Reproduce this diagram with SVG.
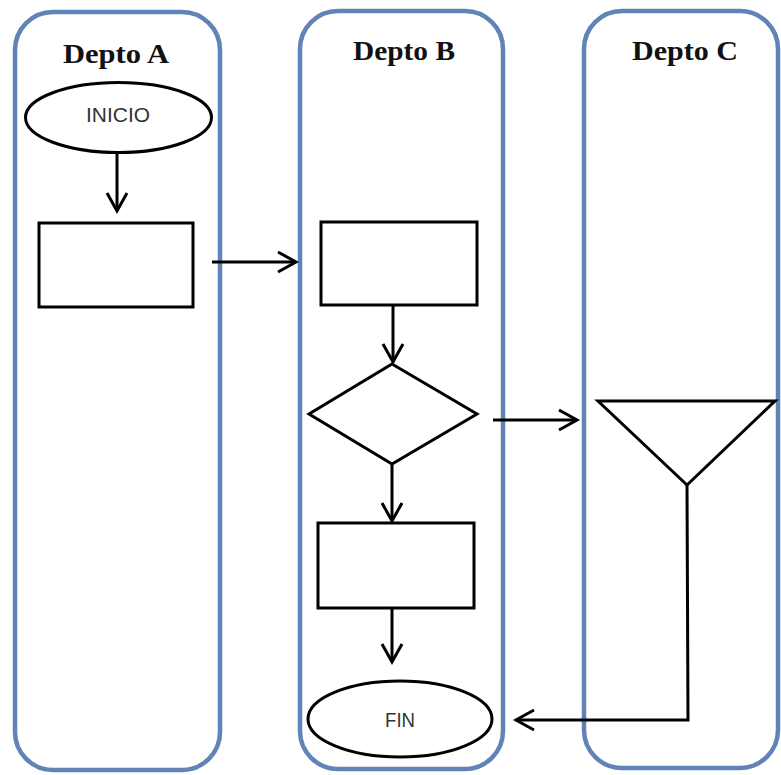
<svg xmlns="http://www.w3.org/2000/svg" width="781" height="775" viewBox="0 0 781 775">
<defs>
<style>
.lane{fill:none;stroke:#6283b6;stroke-width:4.5}
.shape{fill:#fff;stroke:#000;stroke-width:3}
.conn{fill:none;stroke:#000;stroke-width:3}
.head{fill:none;stroke:#000;stroke-width:3;stroke-linejoin:miter}
.title{font-family:"Liberation Serif","Times New Roman",serif;font-weight:bold;font-size:27px;fill:#111;text-anchor:middle}
.lbl{font-family:"Liberation Sans",Arial,sans-serif;font-size:21px;fill:#333;text-anchor:middle}
</style>
</defs>
<rect width="781" height="775" fill="#fff"/>
<g id="laneA"><rect class="lane" x="15" y="12" width="205" height="758" rx="38"/><text class="title" x="116" y="63" textLength="106" lengthAdjust="spacingAndGlyphs">Depto A</text></g>
<g id="laneB"><rect class="lane" x="300" y="11" width="203" height="758" rx="38"/><text class="title" x="404" y="60" textLength="102" lengthAdjust="spacingAndGlyphs">Depto B</text></g>
<g id="laneC"><rect class="lane" x="584" y="11" width="194" height="757" rx="38"/><text class="title" x="685" y="60" textLength="106" lengthAdjust="spacingAndGlyphs">Depto C</text></g>
<g id="inicio"><ellipse class="shape" cx="118.5" cy="117.5" rx="93" ry="35"/><text class="lbl" x="118" y="122" textLength="64" lengthAdjust="spacingAndGlyphs">INICIO</text></g>
<g id="procA"><rect class="shape" x="39" y="223" width="154" height="84"/></g>
<g id="procB1"><rect class="shape" x="321" y="222" width="156" height="83"/></g>
<g id="decision"><polygon class="shape" points="392,364 477,414 392,464 309,414"/></g>
<g id="procB2"><rect class="shape" x="318" y="523" width="156" height="85"/></g>
<g id="fin"><ellipse class="shape" cx="400" cy="719" rx="92" ry="38"/><text class="lbl" x="400" y="727" textLength="30" lengthAdjust="spacingAndGlyphs">FIN</text></g>
<g id="merge"><polygon class="shape" points="598,401 775,401 687,485"/></g>
<g id="connectors">
<path class="conn" d="M117,153 V211"/><path class="head" d="M107,193 L117,211 L127,193"/>
<path class="conn" d="M212,262 H296"/><path class="head" d="M278,252 L296,262 L278,272"/>
<path class="conn" d="M393,305 V362"/><path class="head" d="M383,344 L393,362 L403,344"/>
<path class="conn" d="M493,420 H577"/><path class="head" d="M559,410 L577,420 L559,430"/>
<path class="conn" d="M392,465 V521"/><path class="head" d="M382,503 L392,521 L402,503"/>
<path class="conn" d="M392,608 V662"/><path class="head" d="M382,644 L392,662 L402,644"/>
<path class="conn" d="M687,485 L688,720 H516"/><path class="head" d="M534,710 L516,720 L534,730"/>
</g>
</svg>
